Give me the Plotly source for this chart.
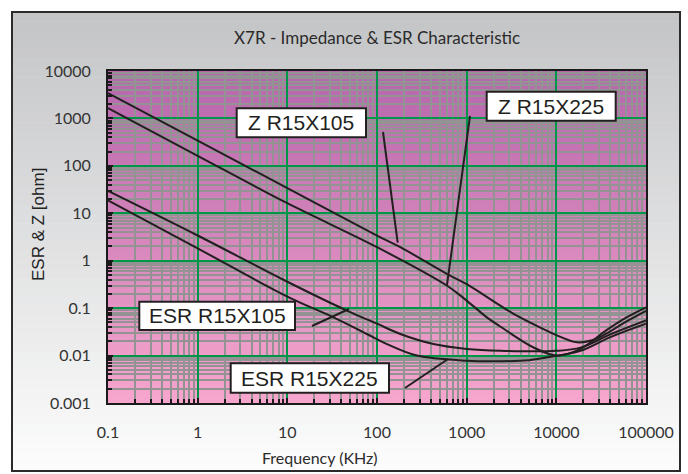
import plotly.graph_objects as go

# ---------------- data ----------------
freq_z105 = [0.1, 1, 10, 100, 182, 600, 1000, 2370, 3340, 7000, 10000, 17000, 25000, 36000, 60000, 100000]
z_r15x105 = [3400, 340, 34, 3.4, 1.93, 0.53, 0.32, 0.113, 0.076, 0.037, 0.027, 0.019, 0.021, 0.029, 0.052, 0.088]

freq_z225 = [0.1, 1, 10, 100, 600, 1000, 1680, 2370, 5580, 10200, 18600, 36000, 60000, 100000]
z_r15x225 = [1650, 163, 16.3, 1.93, 0.30, 0.144, 0.064, 0.041, 0.0148, 0.0100, 0.0138, 0.034, 0.063, 0.104]

freq_esr105 = [0.1, 1, 10, 46, 100, 182, 426, 1000, 2370, 10000, 18600, 40000, 100000]
esr_r15x105 = [29.6, 3.4, 0.36, 0.089, 0.047, 0.0285, 0.0175, 0.0138, 0.0126, 0.0126, 0.0147, 0.028, 0.055]

freq_esr225 = [0.1, 1, 10, 32.7, 77, 129, 279, 1000, 2370, 5000, 10000, 18600, 40000, 100000]
esr_r15x225 = [18.7, 1.82, 0.175, 0.064, 0.0285, 0.0175, 0.0100, 0.0078, 0.0076, 0.0080, 0.0099, 0.0126, 0.0245, 0.047]

x_tick_vals = [0.1, 1, 10, 100, 1000, 10000, 100000]
x_tick_text = ["0.1", "1", "10", "100", "1000", "10000", "100000"]
y_tick_vals = [0.001, 0.01, 0.1, 1, 10, 100, 1000, 10000]
y_tick_text = ["0.001", "0.01", "0.1", "1", "10", "100", "1000", "10000"]

labels = ["Z R15X105", "Z R15X225", "ESR R15X105", "ESR R15X225"]

# ---------------- geometry helpers (pixels -> paper) ----------------
W_FIG, H_FIG = 688, 474
L, R, T, B = 108, 646, 71, 403
PW, PH = R - L, B - T


def px(x):
    return (x - L) / PW


def py(y):
    return (B - y) / PH


def lerp(a, b, t):
    return tuple(int(round(a[i] + (b[i] - a[i]) * t)) for i in range(3))


fig = go.Figure()

series = [
    (freq_z105, z_r15x105),
    (freq_z225, z_r15x225),
    (freq_esr105, esr_r15x105),
    (freq_esr225, esr_r15x225),
]
for (fx, fy), name in zip(series, labels):
    fig.add_trace(go.Scatter(x=fx, y=fy, mode="lines", name=name,
                             line=dict(color="#231f20", width=2), showlegend=False,
                             line_shape="spline"))

shapes = []
# outer frame gradient (gray -> white)
FX0, FY0, FX1, FY1 = 12, 12, 680, 471
n = 50
for i in range(n):
    y0 = FY0 + (FY1 - FY0) * i / n
    y1 = FY0 + (FY1 - FY0) * (i + 1) / n + 0.6
    c = lerp((196, 197, 199), (252, 252, 252), i / (n - 1))
    shapes.append(dict(type="rect", xref="paper", yref="paper", layer="below",
                       x0=px(FX0), x1=px(FX1), y0=py(min(y1, FY1)), y1=py(y0),
                       fillcolor="rgb(%d,%d,%d)" % c, line=dict(width=0)))
shapes.append(dict(type="rect", xref="paper", yref="paper", layer="below",
                   x0=px(FX0), x1=px(FX1), y0=py(FY1), y1=py(FY0),
                   fillcolor="rgba(0,0,0,0)", line=dict(color="#2b2b2b", width=2)))
# plot area gradient (magenta -> pink)
n = 50
for i in range(n):
    y0 = T + PH * i / n
    y1 = T + PH * (i + 1) / n + 0.6
    c = lerp((182, 102, 172), (246, 166, 204), i / (n - 1))
    shapes.append(dict(type="rect", xref="paper", yref="paper", layer="below",
                       x0=0, x1=1, y0=py(min(y1, B)), y1=py(y0),
                       fillcolor="rgb(%d,%d,%d)" % c, line=dict(width=0)))

# label boxes (pixel positions) and leader lines
boxes = [(236.7, 108.3, 366, 137.3), (486.7, 91.7, 615.7, 120.7),
         (139.3, 301.7, 295, 330), (230.7, 363.3, 389, 392.7)]
leaders = [(383, 132, 397.7, 242.7), (470, 116, 447, 285),
           (312, 326, 349, 309), (405, 388, 448, 359)]
for (x0, y0, x1, y1) in leaders:
    shapes.append(dict(type="line", xref="paper", yref="paper", layer="above",
                       x0=px(x0), y0=py(y0), x1=px(x1), y1=py(y1),
                       line=dict(color="#231f20", width=2)))
for (x0, y0, x1, y1) in boxes:
    shapes.append(dict(type="rect", xref="paper", yref="paper", layer="above",
                       x0=px(x0), y0=py(y1), x1=px(x1), y1=py(y0),
                       fillcolor="white", line=dict(color="#231f20", width=2)))

annotations = []
for (x0, y0, x1, y1), text in zip(boxes, labels):
    annotations.append(dict(xref="paper", yref="paper", x=px((x0 + x1) / 2), y=py((y0 + y1) / 2),
                            text=text, showarrow=False, xanchor="center", yanchor="middle",
                            font=dict(family="Liberation Sans, Arial, sans-serif", size=21, color="#231f20")))
annotations.append(dict(xref="paper", yref="paper", x=px(377), y=py(37), text="X7R - Impedance &amp; ESR Characteristic",
                        showarrow=False, xanchor="center", yanchor="middle",
                        font=dict(family="Lato, sans-serif", size=17, color="#2b2b2b")))
annotations.append(dict(xref="paper", yref="paper", x=px(320), y=py(457), text="Frequency (KHz)",
                        showarrow=False, xanchor="center", yanchor="middle",
                        font=dict(family="Lato, sans-serif", size=16, color="#2b2b2b")))
annotations.append(dict(xref="paper", yref="paper", x=px(38), y=py(225), text="ESR &amp; Z [ohm]",
                        showarrow=False, xanchor="center", yanchor="middle", textangle=-90,
                        font=dict(family="Liberation Sans, Arial, sans-serif", size=17, color="#222222")))

x_minor = [m * 10 ** e for e in range(-1, 5) for m in range(2, 10)]
y_minor = [m * 10 ** e for e in range(-3, 4) for m in range(2, 10)]

axis_common = dict(type="log", showline=True, linecolor="#1a1a1a", linewidth=2, mirror=True,
                   gridcolor="#00964a", gridwidth=2, ticks="inside", ticklen=5, tickwidth=1.5,
                   tickcolor="#1a1a1a", tickmode="array",
                   tickfont=dict(family="Lato, sans-serif", size=16, color="#333333"))

fig.update_layout(
    width=W_FIG, height=H_FIG,
    margin=dict(l=L, r=W_FIG - R, t=T, b=H_FIG - B),
    paper_bgcolor="white", plot_bgcolor="rgba(0,0,0,0)",
    xaxis=dict(axis_common, range=[-1, 5], tickvals=x_tick_vals, ticktext=x_tick_text,
               ticklabelstandoff=14,
               minor=dict(tickmode="array", tickvals=x_minor, showgrid=True, gridcolor="#939393",
                          gridwidth=2.3, ticks="inside", ticklen=4, tickcolor="#1a1a1a")),
    yaxis=dict(axis_common, range=[-3, 4], tickvals=y_tick_vals, ticktext=y_tick_text,
               ticklabelstandoff=12,
               minor=dict(tickmode="array", tickvals=y_minor, showgrid=True, gridcolor="#939393",
                          gridwidth=2.3, ticks="inside", ticklen=4, tickcolor="#1a1a1a")),
    shapes=shapes, annotations=annotations,
)

fig.write_html("out.html", config={"displayModeBar": False},
               post_script="document.body.style.margin='0';document.body.style.overflow='hidden';")
